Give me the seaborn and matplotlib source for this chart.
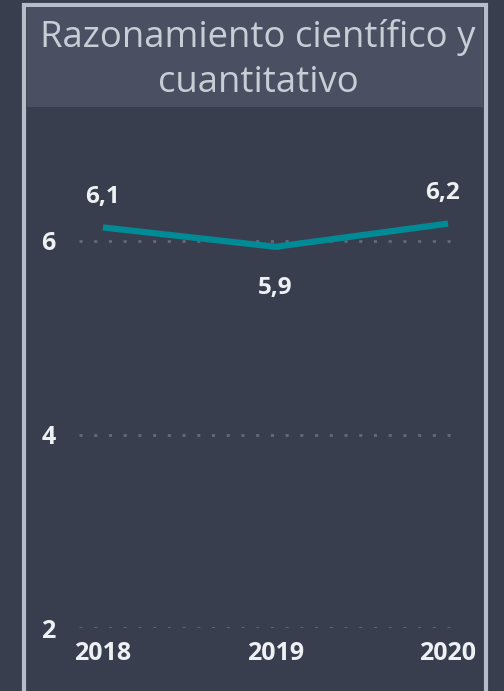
import matplotlib
matplotlib.use("Agg")
import matplotlib.pyplot as plt
from matplotlib.patches import Rectangle
import pandas as pd
import seaborn as sns

# data
years = [2018, 2019, 2020]
scores = [6.14, 5.94, 6.18]
y_ticks = [2, 4, 6]
title = "Razonamiento científico y\ncuantitativo"

BG = "#393e4f"
HEADER = "#4a5061"
BORDER = "#b7bccb"
LINE = "#008a96"
GRID = "#646a7b"
TEXT = "#eef0f4"

sns.set_style("dark")
plt.rcParams["font.family"] = ["Open Sans", "DejaVu Sans"]

W, H = 504, 691
fig = plt.figure(figsize=(W / 100, H / 100), dpi=100, facecolor=BG)

# panel frame + header band (figure pixel coords)
def px(x0, y0, x1, y1):
    # top-left pixel coords -> figure fraction rect
    return (x0 / W, 1 - y1 / H), (x1 - x0) / W, (y1 - y0) / H

xy, w, h = px(24, 5, 486, 700)
fig.patches.append(Rectangle(xy, w, h, transform=fig.transFigure, facecolor=BG,
                             edgecolor=BORDER, linewidth=3, zorder=-2))
xy, w, h = px(27, 7, 483, 107)
fig.patches.append(Rectangle(xy, w, h, transform=fig.transFigure, facecolor=HEADER,
                             edgecolor="none", zorder=-1))
fig.text(258 / W, 1 - 60 / H, title, ha="center", va="center", fontsize=26.3,
         color="#c9cdd6", linespacing=1.35)

# axes area: left 79px, right 459px, value 2 at y=628, top ~190
ax_left, ax_right, ax_bottom, ax_top = 79, 459, 628, 190
ax = fig.add_axes([ax_left / W, 1 - ax_bottom / H, (ax_right - ax_left) / W,
                   (ax_bottom - ax_top) / H])
ax.set_facecolor("none")

px_per_year = 172.5
ax.set_xlim(2018 - (103 - ax_left) / px_per_year, 2020 + (ax_right - 448) / px_per_year)
px_per_unit = 96.75
ax.set_ylim(2, 2 + (ax_bottom - ax_top) / px_per_unit)

df = pd.DataFrame({"year": years, "score": scores})
sns.lineplot(data=df, x="year", y="score", ax=ax, color=LINE, linewidth=4.5,
             solid_capstyle="butt", solid_joinstyle="round", clip_on=False, zorder=3)

for t in y_ticks:
    ax.axhline(t, color=GRID, linewidth=2.0, linestyle=(0, (1.1, 4.2)), zorder=1)

# data labels
offsets = [(0, 22), (0, -30), (-4, 22)]
for yr, val, off in zip(years, scores, offsets):
    ax.annotate(f"{val:.1f}".replace(".", ","), (yr, val), xytext=off,
                textcoords="offset points", ha="center", va="center",
                fontsize=17.5, fontweight="bold", color=TEXT, annotation_clip=False)

ax.set_xticks(years)
ax.set_xticklabels([str(y) for y in years])
ax.set_yticks(y_ticks)
ax.set_yticklabels([str(t) for t in y_ticks])
ax.tick_params(axis="x", length=0, pad=9, labelsize=18, labelcolor=TEXT)
ax.tick_params(axis="y", length=0, pad=17, labelsize=18, labelcolor=TEXT)
for lab in ax.get_xticklabels() + ax.get_yticklabels():
    lab.set_fontweight("bold")
ax.grid(False)
for s in ax.spines.values():
    s.set_visible(False)
ax.set_xlabel("")
ax.set_ylabel("")

fig.savefig("out.png", dpi=100, facecolor=BG)
